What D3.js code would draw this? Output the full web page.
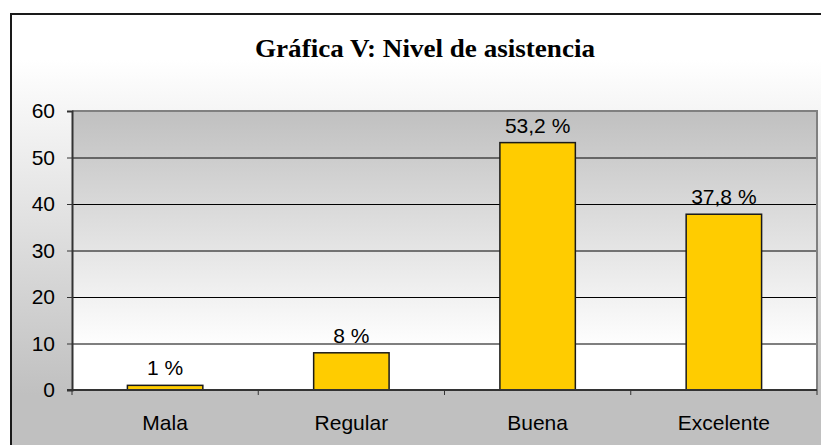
<!DOCTYPE html>
<html>
<head>
<meta charset="utf-8">
<script src="https://cdn.jsdelivr.net/npm/d3@7"></script>
<style>
  body { margin: 0; background: #fff; }
  svg { display: block; }
</style>
</head>
<body>
<div id="chart"></div>
<script>
const categories = ['Mala', 'Regular', 'Buena', 'Excelente'];
const values = [1, 8, 53.2, 37.8];
const valueLabels = ['1 %', '8 %', '53,2 %', '37,8 %'];
const yTicks = [0, 10, 20, 30, 40, 50, 60];
const title = 'Gráfica V: Nivel de asistencia';

const width = 821,
    height = 445,
    plot = { left: 72, top: 111, right: 817, bottom: 390 },
    font = '"Liberation Sans", Arial, sans-serif',
    fontSize = 21;

const svg = d3.select('#chart')
    .append('svg')
    .attr('width', width)
    .attr('height', height);

const defs = svg.append('defs');

// outer chart area: white at top, gray at bottom
const outerGrad = defs.append('linearGradient')
    .attr('id', 'outerGrad')
    .attr('gradientUnits', 'userSpaceOnUse')
    .attr('x1', 0).attr('y1', 60).attr('x2', 0).attr('y2', 395);
outerGrad.append('stop').attr('offset', '0%').attr('stop-color', '#ffffff');
outerGrad.append('stop').attr('offset', '100%').attr('stop-color', '#c0c0c0');

// plot area: gray at top, white at bottom
const plotGrad = defs.append('linearGradient')
    .attr('id', 'plotGrad')
    .attr('x1', 0).attr('y1', 0).attr('x2', 0).attr('y2', 1);
plotGrad.append('stop').attr('offset', '0%').attr('stop-color', '#c0c0c0');
plotGrad.append('stop').attr('offset', '85%').attr('stop-color', '#ffffff');
plotGrad.append('stop').attr('offset', '100%').attr('stop-color', '#ffffff');

// chart area + border
svg.append('rect')
    .attr('x', 11).attr('y', 14)
    .attr('width', 830).attr('height', 450)
    .attr('fill', 'url(#outerGrad)')
    .attr('stroke', '#1a1a1a')
    .attr('stroke-width', 2);

// title
svg.append('text')
    .attr('x', 425)
    .attr('y', 57)
    .attr('text-anchor', 'middle')
    .attr('font-family', '"Liberation Serif", "Times New Roman", serif')
    .attr('font-weight', 'bold')
    .attr('font-size', 26)
    .attr('textLength', 340)
    .attr('lengthAdjust', 'spacingAndGlyphs')
    .attr('fill', '#000')
    .text(title);

const x = d3.scaleBand()
    .domain(categories)
    .range([plot.left, plot.right])
    .paddingInner(0.595)
    .paddingOuter(0.2975);

const y = d3.scaleLinear()
    .domain([0, 60])
    .range([plot.bottom, plot.top]);

// plot background
svg.append('rect')
    .attr('x', plot.left).attr('y', plot.top)
    .attr('width', plot.right - plot.left)
    .attr('height', plot.bottom - plot.top)
    .attr('fill', 'url(#plotGrad)');

// gridlines
svg.append('g')
    .selectAll('line')
    .data(yTicks.filter(d => d > 0 && d < 60))
    .join('line')
    .attr('x1', plot.left).attr('x2', plot.right)
    .attr('y1', d => y(d) + 0.5).attr('y2', d => y(d) + 0.5)
    .attr('stroke', '#000')
    .attr('stroke-width', 1);

// plot area border (top and right)
svg.append('path')
    .attr('d', `M${plot.left},${plot.top} H${plot.right} V${plot.bottom}`)
    .attr('fill', 'none')
    .attr('stroke', '#808080')
    .attr('stroke-width', 2);

// bars
svg.append('g')
    .selectAll('rect')
    .data(values)
    .join('rect')
    .attr('x', (d, i) => x(categories[i]))
    .attr('y', d => y(d))
    .attr('width', x.bandwidth())
    .attr('height', d => y(0) - y(d))
    .attr('fill', '#ffcc00')
    .attr('stroke', '#1a1a1a')
    .attr('stroke-width', 1.5);

// value labels
svg.append('g')
    .selectAll('text')
    .data(values)
    .join('text')
    .attr('x', (d, i) => x(categories[i]) + x.bandwidth() / 2)
    .attr('y', d => y(d) - 10)
    .attr('text-anchor', 'middle')
    .attr('font-family', font)
    .attr('font-size', fontSize)
    .attr('fill', '#000')
    .text((d, i) => valueLabels[i]);

// y axis
const yAxis = svg.append('g')
    .attr('transform', `translate(${plot.left},0)`)
    .call(d3.axisLeft(y).tickValues(yTicks).tickSize(5).tickPadding(12));
yAxis.select('.domain').attr('stroke', '#333').attr('stroke-width', 2);
yAxis.selectAll('.tick line').attr('stroke', '#333');
yAxis.selectAll('.tick text')
    .attr('font-family', font)
    .attr('font-size', fontSize)
    .attr('fill', '#000');

// x axis (ticks at category boundaries)
const xAxis = svg.append('g')
    .attr('transform', `translate(0,${plot.bottom})`);
xAxis.append('line')
    .attr('x1', plot.left - 5).attr('x2', plot.right)
    .attr('stroke', '#333')
    .attr('stroke-width', 2);
xAxis.selectAll('.bound')
    .data(d3.range(categories.length + 1))
    .join('line')
    .attr('class', 'bound')
    .attr('x1', i => plot.left + i * x.step())
    .attr('x2', i => plot.left + i * x.step())
    .attr('y1', 0).attr('y2', 5)
    .attr('stroke', '#333');
xAxis.selectAll('.cat')
    .data(categories)
    .join('text')
    .attr('class', 'cat')
    .attr('x', d => x(d) + x.bandwidth() / 2)
    .attr('y', 40)
    .attr('text-anchor', 'middle')
    .attr('font-family', font)
    .attr('font-size', fontSize)
    .attr('fill', '#000')
    .text(d => d);
</script>
</body>
</html>
